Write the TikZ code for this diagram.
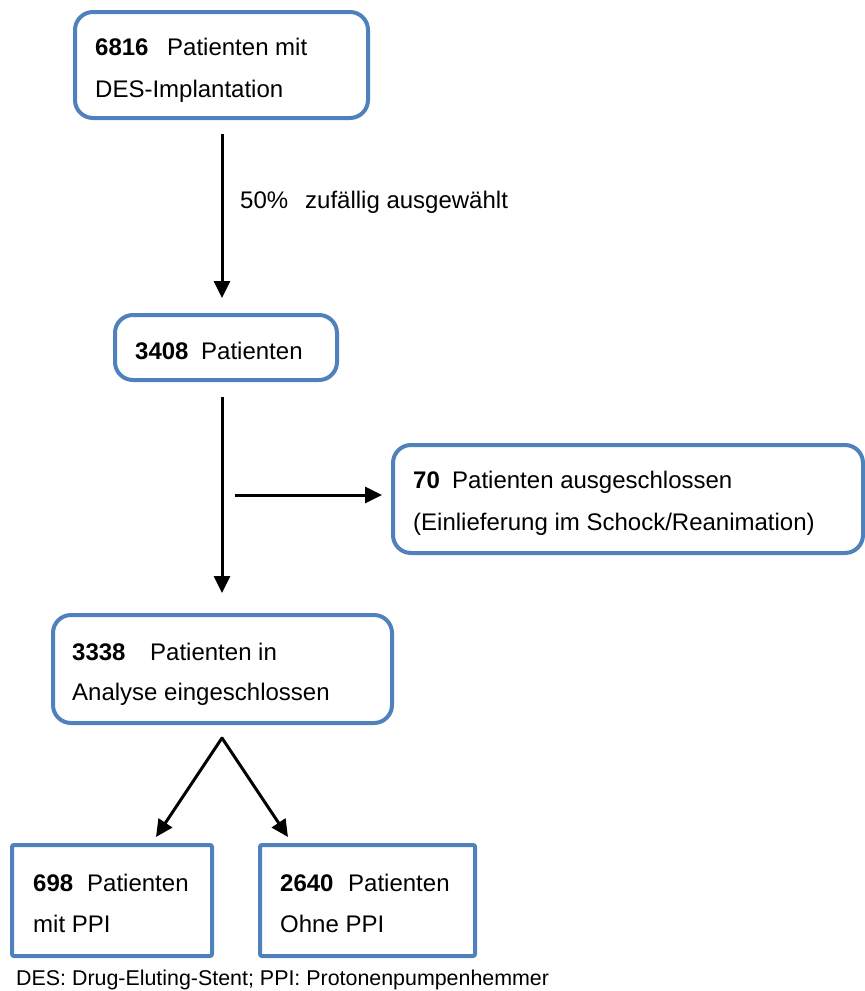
\documentclass[tikz,border=0pt]{standalone}
\usepackage{fontspec}
\setmainfont{Liberation Sans}
\usetikzlibrary{arrows.meta}
\definecolor{boxblue}{HTML}{4F81BD}
\begin{document}
\begin{tikzpicture}[x=1pt,y=-1pt,
  rbox/.style={draw=boxblue, line width=4pt, rounded corners=18pt, inner sep=0pt},
  sbox/.style={draw=boxblue, line width=4pt, rounded corners=2pt, inner sep=0pt},
  txt/.style={anchor=base west, inner sep=0pt, font=\fontsize{24}{28}\selectfont},
  foot/.style={anchor=base west, inner sep=0pt, font=\fontsize{21.4}{25}\selectfont},
  conn/.style={line width=3pt, -{Triangle[length=17pt,width=16pt]}}]
\useasboundingbox (0,0) rectangle (865,991);

% boxes
\node[rbox, minimum width=293pt, minimum height=106pt] (b1) at (221.5,65) {};
\node[rbox, minimum width=222pt, minimum height=65pt] (b2) at (226,347.5) {};
\node[rbox, minimum width=470pt, minimum height=108pt] (b3) at (628,499) {};
\node[rbox, minimum width=339pt, minimum height=108pt] (b4) at (222.5,669) {};
\node[sbox, minimum width=200pt, minimum height=111pt] (b5) at (112,900.5) {};
\node[sbox, minimum width=215pt, minimum height=111pt] (b6) at (367.5,900.5) {};

% texts
\node[txt] (t1a) at (95,55) {\textbf{6816}};
\node[txt] (t1b) at (167,55) {Patienten mit};
\node[txt] (t1c) at (95,97) {DES-Implantation};

\node[txt] (t2a) at (135,359) {\textbf{3408}};
\node[txt] (t2b) at (201,359) {Patienten};

\node[txt] (t3a) at (413,488) {\textbf{70}};
\node[txt] (t3b) at (452,488) {Patienten ausgeschlossen};
\node[txt] (t3c) at (413,530) {(Einlieferung im Schock/Reanimation)};

\node[txt] (t4a) at (72,660) {\textbf{3338}};
\node[txt] (t4b) at (150,660) {Patienten in};
\node[txt] (t4c) at (72,700) {Analyse eingeschlossen};

\node[txt] (t5a) at (33,891) {\textbf{698}};
\node[txt] (t5b) at (87,891) {Patienten};
\node[txt] (t5c) at (33,932) {mit PPI};

\node[txt] (t6a) at (280,891) {\textbf{2640}};
\node[txt] (t6b) at (348,891) {Patienten};
\node[txt] (t6c) at (280,932) {Ohne PPI};

\node[txt] (l1a) at (240,208) {50\%};
\node[txt] (l1b) at (305,208) {zufällig ausgewählt};

\node[foot] (fn) at (16,985) {DES: Drug-Eluting-Stent; PPI: Protonenpumpenhemmer};

% connectors
\coordinate (a1s) at (222,134);
\coordinate (a1e) at (222,298);
\coordinate (a2s) at (222,397);
\coordinate (a2e) at (222,593);
\coordinate (hs) at (235,495);
\coordinate (he) at (382,495);
\coordinate (apex) at (222,738);
\coordinate (dl) at (156,837);
\coordinate (dr) at (288,837);

\draw[conn] (a1s) -- (a1e);
\draw[conn] (a2s) -- (a2e);
\draw[conn] (hs) -- (he);
\draw[conn, line cap=round] (apex) -- (dl);
\draw[conn, line cap=round] (apex) -- (dr);
\end{tikzpicture}
\end{document}
